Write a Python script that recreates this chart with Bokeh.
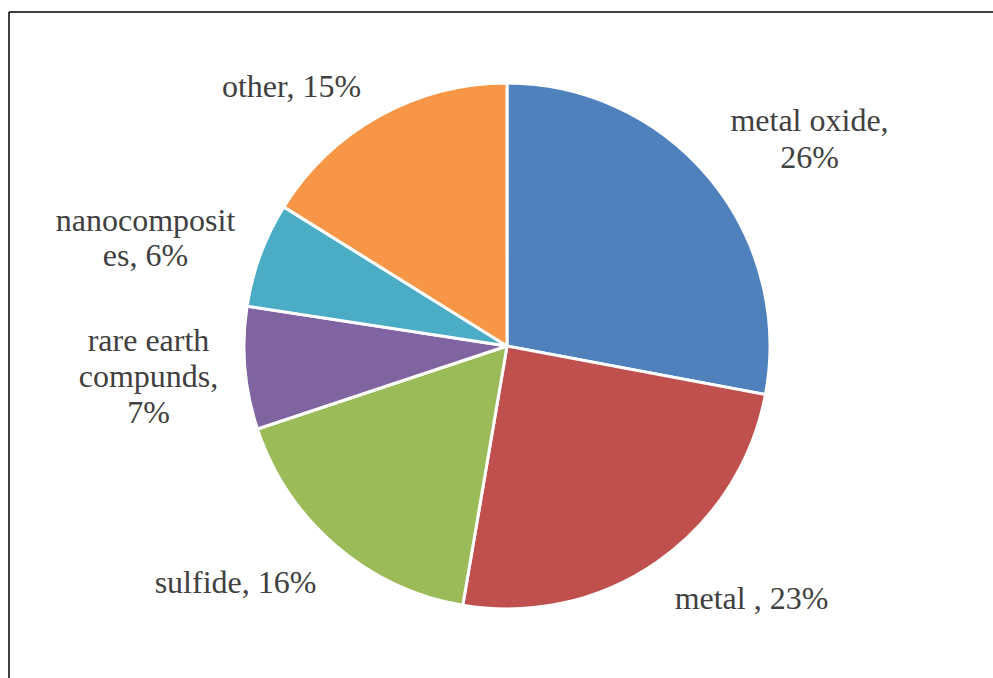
import numpy as np
from bokeh.plotting import figure
from bokeh.models import ColumnDataSource, Range1d
from bokeh.embed import file_html
from bokeh.resources import INLINE
from bokeh.core.properties import value

# ---- data ----
categories = ["metal oxide", "metal ", "sulfide", "rare earth compunds", "nanocomposites", "other"]
values = [26, 23, 16, 7, 6, 15]
label_texts = [
    ["metal oxide,", "26%"],
    ["metal , 23%"],
    ["sulfide, 16%"],
    ["rare earth", "compunds,", "7%"],
    ["nanocomposit", "es, 6%"],
    ["other, 15%"],
]
colors = ["#4F81BD", "#C0504D", "#9BBB59", "#8064A2", "#4BACC6", "#F79646"]

W, H = 993, 678
p = figure(width=W, height=H, output_backend="svg", toolbar_location=None,
           x_range=Range1d(0, W), y_range=Range1d(0, H), min_border=0)
p.axis.visible = False
p.grid.visible = False
p.outline_line_color = None
p.background_fill_color = "white"

# frame (chart area border)
p.segment(x0=[8.5, 8.5], y0=[H - 11.5, H - 11.5], x1=[8.5, W + 5], y1=[-5, H - 11.5],
          line_color="#000000", line_width=1.5)

cx, cy, r = 506.5, H - 345.5, 263
vals = np.array(values, dtype=float)
cum = np.concatenate([[0], np.cumsum(vals)]) / vals.sum() * 2 * np.pi
start = np.pi / 2 - cum[:-1]
end = np.pi / 2 - cum[1:]
src = ColumnDataSource(dict(start=start, end=end, color=colors, cat=categories))
p.wedge(x=cx, y=cy, radius=r, start_angle="start", end_angle="end", direction="clock",
        fill_color="color", line_color="white", line_width=3, source=src)

# label layout: (center x, first baseline y in pixels from top, line spacing)
label_pos = [(809, 119, 37), (751, 597, 36), (235, 581, 36), (148, 339, 36), (145, 219, 35), (291, 85, 36)]
xs, ys, ts = [], [], []
for lines, (lx, ly, ls) in zip(label_texts, label_pos):
    for i, t in enumerate(lines):
        xs.append(lx)
        ys.append(H - (ly + i * ls))
        ts.append(t)
p.text(x=xs, y=ys, text=ts, text_font=value("Liberation Serif"), text_font_size="32px",
       text_color="#404040", text_align="center", text_baseline="alphabetic")

open("out.html", "w").write(file_html(p, INLINE))
